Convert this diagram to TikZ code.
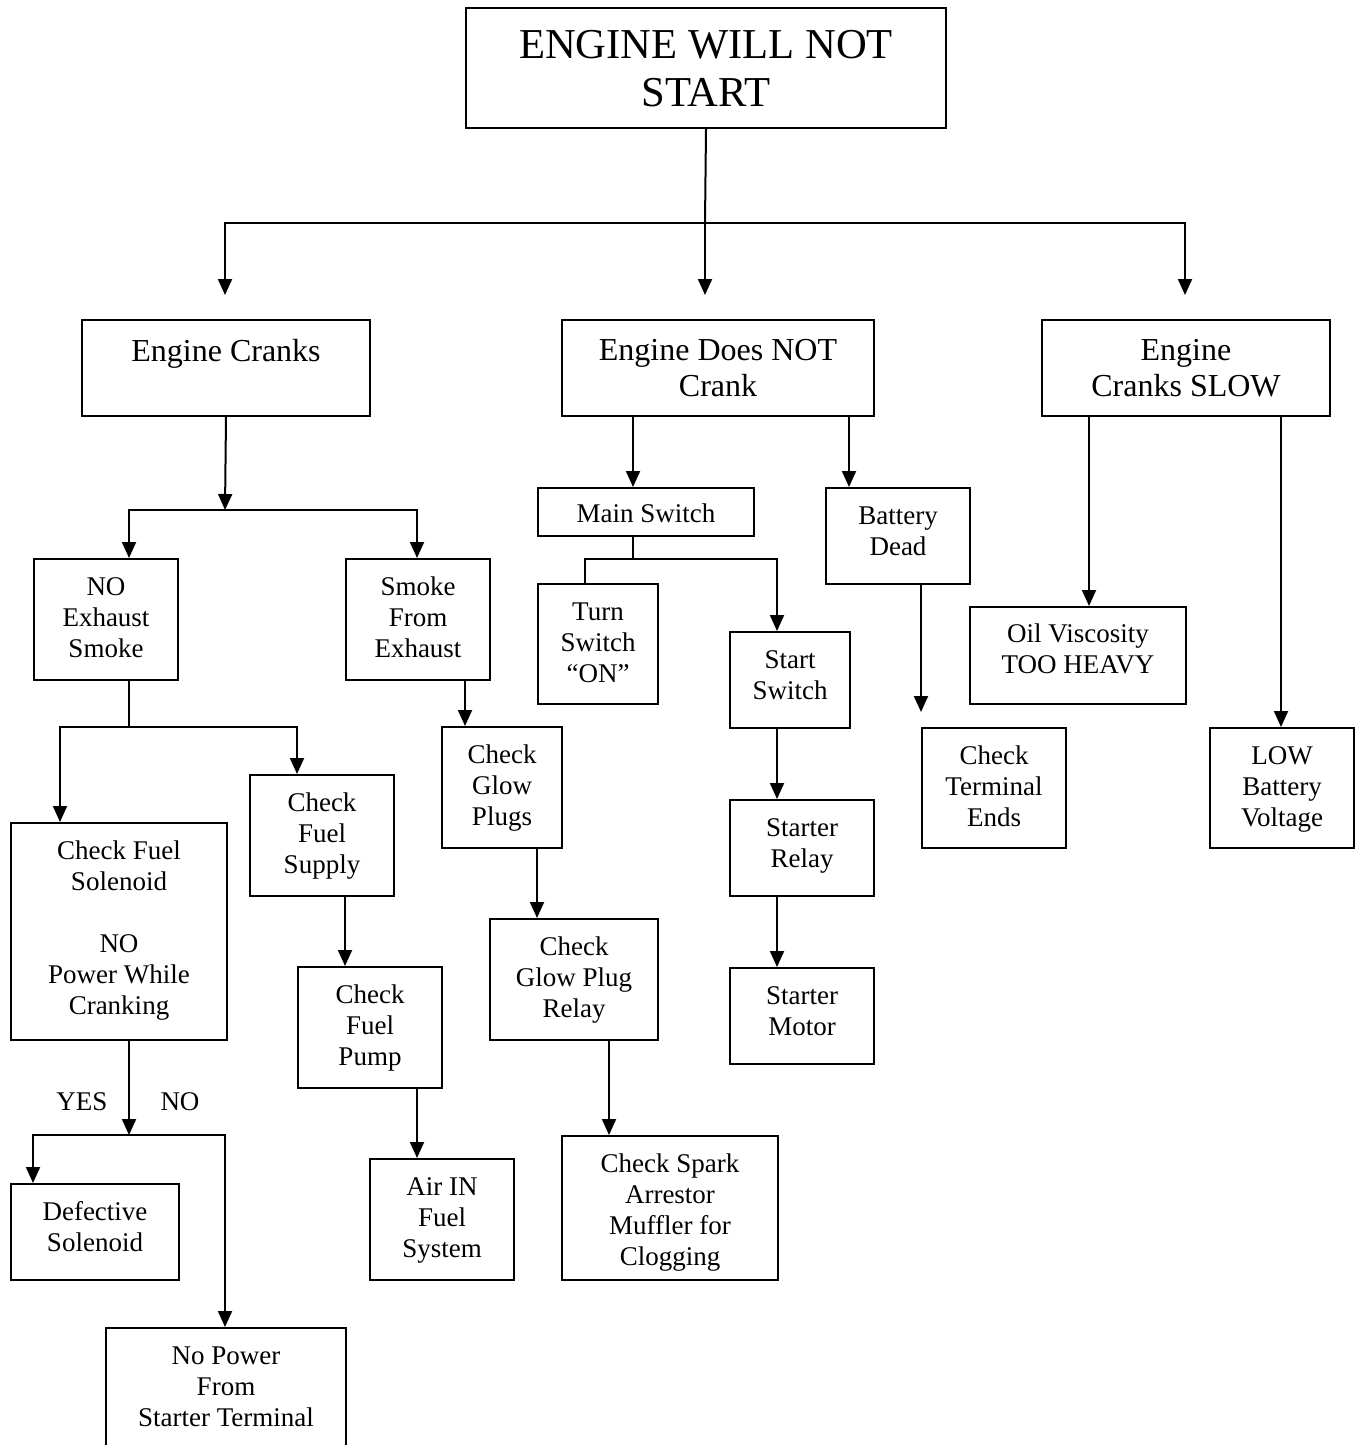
\documentclass[tikz,border=0pt]{standalone}
\usepackage{fontspec}
\setmainfont{Liberation Serif}
\usetikzlibrary{arrows.meta}
\tikzset{
  box/.style={draw, line width=1pt, inner sep=0pt},
  txt/.style={align=center, inner sep=0pt, font=\fontsize{13.5}{15.5}\selectfont},
  bigtxt/.style={font=\fontsize{16}{18}\selectfont},
  arr/.style={line width=1pt, -{Triangle[width=7pt,length=8pt]}},
  ln/.style={line width=1pt},
}
\newcommand\bx[8][]{%
  \node[box, minimum width={(#4-#2)*0.5pt}, minimum height={(#5-#3)*0.5pt}, anchor=north west] (#2) at (#3,#4) {};
}
\renewcommand\bx[8][]{%
  \node[box, minimum width={(#5-#3)*0.5pt}, minimum height={(#6-#4)*0.5pt}, anchor=north west] (#2) at (#3,#4) {};
  \node[txt, #1, anchor=north, yshift={-(#7)*0.5pt}] (#2t) at (#2.north) {\strut #8};
}
\begin{document}
\begin{tikzpicture}[x=0.5pt,y=-0.5pt]
\useasboundingbox (0,0) rectangle (1363,1445);
% title
\node[box, minimum width=240pt, minimum height=60pt, anchor=north west] (title) at (465,7) {};
\node[align=center, inner sep=0pt, font=\fontsize{21.3}{24}\selectfont, anchor=north, yshift=-8.7pt] (titlet) at (title.north) {\strut ENGINE WILL NOT\\START};
% level 1
\bx[bigtxt]{ec}{81}{319}{369}{415}{17}{Engine Cranks}
\bx[bigtxt]{dnc}{561}{319}{873}{415}{16}{Engine Does NOT\\Crank}
\bx[bigtxt]{slow}{1041}{319}{1329}{415}{16}{Engine\\Cranks SLOW}
% left branch
\bx{noex}{33}{558}{177}{679}{15}{NO\\Exhaust\\Smoke}
\bx{smoke}{345}{558}{489}{679}{15}{Smoke\\From\\Exhaust}
\bx{sol}{10}{822}{226}{1039}{15}{Check Fuel\\Solenoid\\[15.5pt]NO\\Power While\\Cranking}
\bx{fsup}{249}{774}{393}{895}{15}{Check\\Fuel\\Supply}
\bx{fpump}{297}{966}{441}{1087}{15}{Check\\Fuel\\Pump}
\bx{air}{369}{1158}{513}{1279}{15}{Air IN\\Fuel\\System}
\bx{defsol}{10}{1183}{178}{1279}{15}{Defective\\Solenoid}
\bx{nopow}{105}{1327}{345}{1470}{15}{No Power\\From\\Starter Terminal}
\bx{glow}{441}{726}{561}{847}{15}{Check\\Glow\\Plugs}
\bx{gpr}{489}{918}{657}{1039}{15}{Check\\Glow Plug\\Relay}
\bx{spark}{561}{1135}{777}{1279}{15}{Check Spark\\Arrestor\\Muffler for\\Clogging}
% middle branch
\bx{msw}{537}{487}{753}{535}{13}{Main Switch}
\bx{bat}{825}{487}{969}{583}{15}{Battery\\Dead}
\bx{turn}{537}{583}{657}{703}{15}{Turn\\Switch\\“ON”}
\bx{ssw}{729}{631}{849}{727}{15}{Start\\Switch}
\bx{srel}{729}{799}{873}{895}{15}{Starter\\Relay}
\bx{smot}{729}{967}{873}{1063}{15}{Starter\\Motor}
\bx{cte}{921}{727}{1065}{847}{15}{Check\\Terminal\\Ends}
% right branch
\bx{oil}{969}{606}{1185}{703}{14}{Oil Viscosity\\TOO HEAVY}
\bx{lowb}{1209}{727}{1353}{847}{15}{LOW\\Battery\\Voltage}
% labels
\node[txt, anchor=center] (yes) at (82,1102) {YES};
\node[txt, anchor=center] (no) at (180,1102) {NO};
% coordinates
\coordinate (t1) at (705,223);
\coordinate (t2) at (705,295);
\coordinate (tl) at (225,223);
\coordinate (tr) at (1185,223);
\coordinate (e1) at (225,510);
\coordinate (e1l) at (129,510);
\coordinate (e1r) at (417,510);
\coordinate (n1) at (129,727);
\coordinate (n1l) at (60,727);
\coordinate (n1r) at (297,727);
\coordinate (s1) at (129,1135);
\coordinate (s1l) at (33,1135);
\coordinate (s1r) at (225,1135);
\coordinate (p1) at (345,0);
\coordinate (p2) at (417,0);
\coordinate (p3) at (465,0);
\coordinate (p4) at (537,0);
\coordinate (p5) at (609,0);
\coordinate (p6) at (633,0);
\coordinate (p7) at (849,0);
\coordinate (p8) at (777,0);
\coordinate (m1) at (633,559);
\coordinate (m1l) at (585,559);
\coordinate (m1r) at (777,559);
\coordinate (b2) at (921,712);
\coordinate (p10) at (1089,0);
\coordinate (p11) at (1281,0);
% connectors
\draw[ln] (title.south) -- (t1);
\draw[arr] (t1) -- (t2);
\draw[arr] (t1) -- (tl) -- (tl |- t2);
\draw[arr] (t1) -- (tr) -- (tr |- t2);
\draw[arr] (ec.south) -- (e1);
\draw[arr] (e1) -- (e1l) -- (e1l |- noex.north);
\draw[arr] (e1) -- (e1r) -- (e1r |- smoke.north);
\draw[ln] (n1 |- noex.south) -- (n1);
\draw[arr] (n1) -- (n1l) -- (n1l |- sol.north);
\draw[arr] (n1) -- (n1r) -- (n1r |- fsup.north);
\draw[arr] (s1 |- sol.south) -- (s1);
\draw[arr] (s1) -- (s1l) -- (s1l |- defsol.north);
\draw[arr] (s1) -- (s1r) -- (s1r |- nopow.north);
\draw[arr] (p1 |- fsup.south) -- (p1 |- fpump.north);
\draw[arr] (p2 |- fpump.south) -- (p2 |- air.north);
\draw[arr] (p3 |- smoke.south) -- (p3 |- glow.north);
\draw[arr] (p4 |- glow.south) -- (p4 |- gpr.north);
\draw[arr] (p5 |- gpr.south) -- (p5 |- spark.north);
\draw[arr] (p6 |- dnc.south) -- (p6 |- msw.north);
\draw[arr] (p7 |- dnc.south) -- (p7 |- bat.north);
\draw[ln] (p6 |- msw.south) -- (m1);
\draw[ln] (m1) -- (m1l) -- (m1l |- turn.north);
\draw[arr] (m1) -- (m1r) -- (m1r |- ssw.north);
\draw[arr] (p8 |- ssw.south) -- (p8 |- srel.north);
\draw[arr] (p8 |- srel.south) -- (p8 |- smot.north);
\draw[arr] (b2 |- bat.south) -- (b2);
\draw[arr] (p10 |- slow.south) -- (p10 |- oil.north);
\draw[arr] (p11 |- slow.south) -- (p11 |- lowb.north);
\end{tikzpicture}
\end{document}
